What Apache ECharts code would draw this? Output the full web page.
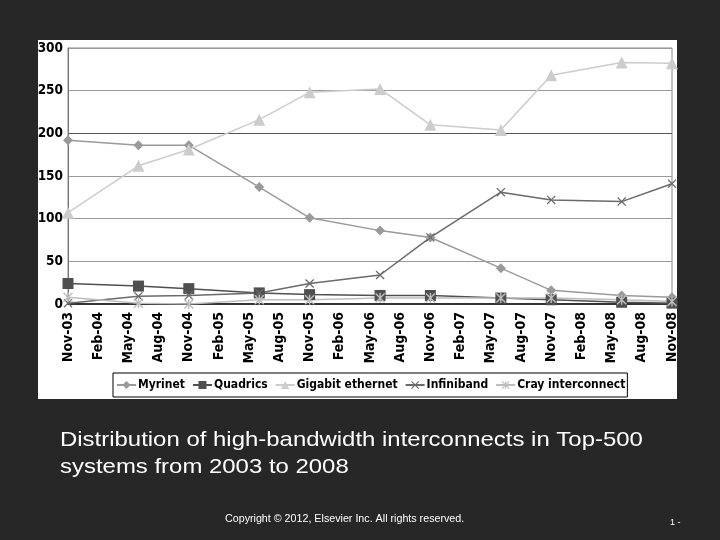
<!DOCTYPE html>
<html>
<head>
<meta charset="utf-8">
<script src="https://cdn.jsdelivr.net/npm/echarts@6/dist/echarts.min.js"></script>
<style>
  html, body { margin: 0; padding: 0; background: #272727; }
  #main { width: 720px; height: 540px; }
</style>
</head>
<body>
<div id="main"></div>
<script>
// quarterly tick labels, Nov-03 .. Nov-08
const tickLabels = ['Nov-03', 'Feb-04', 'May-04', 'Aug-04', 'Nov-04', 'Feb-05', 'May-05', 'Aug-05',
  'Nov-05', 'Feb-06', 'May-06', 'Aug-06', 'Nov-06', 'Feb-07', 'May-07', 'Aug-07', 'Nov-07',
  'Feb-08', 'May-08', 'Aug-08', 'Nov-08'];
// survey dates as months after Nov-03 (June / November lists)
const surveyMonths = [0, 7, 12, 19, 24, 31, 36, 43, 48, 55, 60];

const myrinet = [192, 186, 186, 137, 101, 86, 78, 42, 16, 10, 8];
const quadrics = [24, 21, 18, 13, 11, 10, 10, 7, 5, 2, 1];
const gigabit = [107, 162, 181, 216, 248, 252, 210, 204, 268, 283, 282];
const infiniband = [1, 9, 10, 13, 24, 34, 78, 131, 122, 120, 141];
const cray = [8, 1, 0, 5, 5, 7, 7, 7, 7, 5, 3];

const yTicks = [0, 50, 100, 150, 200, 250, 300];

const xSym = 'path://M0,1L1,0L5,4L9,0L10,1L6,5L10,9L9,10L5,6L1,10L0,9L4,5Z';
const starSym = 'path://M0,1L1,0L5,4L9,0L10,1L6,5L10,9L9,10L5,6L1,10L0,9L4,5Z' +
  'M4.3,0L5.7,0L5.7,10L4.3,10Z';

function pts(vals) {
  return vals.map((v, i) => [surveyMonths[i], v]);
}

const font = '"DejaVu Sans Condensed", "DejaVu Sans", sans-serif';
const capFont = '"Liberation Sans", Arial, sans-serif';

const chart = echarts.init(document.getElementById('main'));

function mk(name, vals, color, symbol, size) {
  return {
    name: name,
    type: 'line',
    data: pts(vals),
    symbol: symbol,
    symbolSize: size,
    showAllSymbol: true,
    lineStyle: { color: color, width: 1.5 },
    itemStyle: { color: color },
    emphasis: { disabled: true }
  };
}

const option = {
  backgroundColor: '#272727',
  animation: false,
  graphic: [
    {
      type: 'rect', z: -10,
      shape: { x: 38, y: 40, width: 639, height: 359 },
      style: { fill: '#ffffff' }
    },
    {
      type: 'text', x: 60, y: 430, scaleX: 1.14,
      style: {
        text: 'Distribution of high-bandwidth interconnects in Top-500',
        fill: '#ffffff', font: '21px ' + capFont
      }
    },
    {
      type: 'text', x: 60, y: 457, scaleX: 1.14,
      style: {
        text: 'systems from 2003 to 2008',
        fill: '#ffffff', font: '21px ' + capFont
      }
    },
    {
      type: 'text', x: 225, y: 514, scaleX: 1.07,
      style: {
        text: 'Copyright © 2012, Elsevier Inc. All rights reserved.',
        fill: '#ffffff', font: '10px ' + capFont
      }
    },
    {
      type: 'text', x: 670, y: 518,
      style: { text: '1 -', fill: '#ffffff', font: '9px ' + capFont }
    }
  ],
  grid: {
    left: 68, right: 48, top: 48, bottom: 236,
    show: true, borderColor: '#888', borderWidth: 1, backgroundColor: 'transparent'
  },
  legend: {
    left: 113, top: 373,
    backgroundColor: '#fff', borderColor: '#000', borderWidth: 1,
    padding: [6, 2, 6, 3], itemGap: 7, itemWidth: 19, itemHeight: 10,
    textStyle: { fontFamily: font, fontWeight: 'bold', fontSize: 12, color: '#000', padding: [0, 0, 0, -3] },
    data: ['Myrinet', 'Quadrics', 'Gigabit ethernet', 'Infiniband', 'Cray interconnect']
  },
  xAxis: {
    type: 'value', min: 0, max: 60, interval: 3,
    axisLine: { show: true, onZero: false, lineStyle: { color: '#333', width: 2 } },
    axisTick: { show: false },
    splitLine: { show: false },
    axisLabel: {
      rotate: 90, margin: 8, color: '#000', fontFamily: font, fontWeight: 'bold', fontSize: 14,
      formatter: v => tickLabels[Math.round(v / 3)]
    }
  },
  yAxis: {
    type: 'value', min: yTicks[0], max: yTicks[yTicks.length - 1], interval: 50,
    axisLine: { show: true, lineStyle: { color: '#777', width: 1 } },
    axisTick: { show: false },
    splitLine: { show: true, lineStyle: { color: ['#999', '#999', '#999', '#999', '#555', '#999', '#999'], width: 1 } },
    axisLabel: { margin: 5, color: '#000', fontFamily: font, fontWeight: 'bold', fontSize: 13.5 }
  },
  series: [
    mk('Myrinet', myrinet, '#9a9a9a', 'diamond', 10),
    mk('Quadrics', quadrics, '#4f4f4f', 'rect', 11),
    mk('Gigabit ethernet', gigabit, '#cccccc', 'triangle', 12),
    mk('Infiniband', infiniband, '#6a6a6a', xSym, 9),
    mk('Cray interconnect', cray, '#bdbdbd', starSym, 10)
  ]
};

chart.setOption(option);
</script>
</body>
</html>
